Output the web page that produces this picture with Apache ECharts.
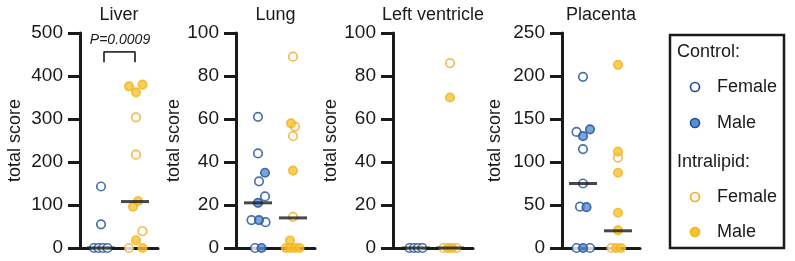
<!DOCTYPE html>
<html>
<head>
<meta charset="utf-8">
<script src="https://cdn.jsdelivr.net/npm/echarts@6/dist/echarts.min.js"></script>
<style>
  html, body { margin: 0; padding: 0; background: #fff; }
  #chart { width: 795px; height: 261px; }
</style>
</head>
<body>
<div id="chart"></div>
<script>
// ---- data ----
const titles = ['Liver', 'Lung', 'Left ventricle', 'Placenta'];
const yMax = [500, 100, 100, 250];
const yStep = [100, 20, 20, 50];

// total score per animal (ctrl = control, il = intralipid, F/M = female/male)
const liverCtrlF = [143, 55, 0, 0, 0, 0];
const liverCtrlM = [];
const liverIlF = [304, 217, 39, 0];
const liverIlM = [380, 376, 362, 109, 96, 18, 0];

const lungCtrlF = [61, 44, 31, 24, 13, 12, 0];
const lungCtrlM = [35, 21, 13, 0];
const lungIlF = [89, 56.5, 52, 14.5];
const lungIlM = [58, 36, 3.5, 0, 0, 0, 0];

const lvCtrlF = [0, 0, 0, 0];
const lvCtrlM = [];
const lvIlF = [86, 0, 0];
const lvIlM = [70, 0, 0];

const placCtrlF = [199, 135, 115, 75, 48, 0, 0];
const placCtrlM = [138, 130, 47.5, 0];
const placIlF = [105, 0];
const placIlM = [213, 112, 87.5, 41, 20.5, 0, 0];

const medianCtrl = [0, 21, 0, 75];
const medianIl = [108, 14, 0, 20];
const liverPText = 'P=0.0009';

// horizontal jitter (px) of each dot within its column
const liverCtrlFJit = [0, 0, -7, -2.5, 2, 6.5];
const liverCtrlMJit = [];
const liverIlFJit = [1, 1, 7.5, -6];
const liverIlMJit = [7.5, -6, 1, 3, -2, 1, 7.5];

const lungCtrlFJit = [0, 0, 1, 7, -6.5, 7.5, -3];
const lungCtrlMJit = [7, 0, 1, 3.5];
const lungIlFJit = [0, 2, 0, 0];
const lungIlMJit = [-2, 0, -3, -7, -2.5, 2, 6.5];

const lvCtrlFJit = [-6.5, -2, 2, 6.5];
const lvCtrlMJit = [];
const lvIlFJit = [0, -6.5, 6.5];
const lvIlMJit = [0, -2, 2];

const placCtrlFJit = [0, -6.5, 0, 0, -3, -6.5, 7];
const placCtrlMJit = [7, 0, 3.5, 0];
const placIlFJit = [0, -6.5];
const placIlMJit = [0, 0, 0, 0, 0, -2, 3];

const groups = [
  [liverCtrlF, liverCtrlM, liverIlF, liverIlM],
  [lungCtrlF, lungCtrlM, lungIlF, lungIlM],
  [lvCtrlF, lvCtrlM, lvIlF, lvIlM],
  [placCtrlF, placCtrlM, placIlF, placIlM]
];
const jitters = [
  [liverCtrlFJit, liverCtrlMJit, liverIlFJit, liverIlMJit],
  [lungCtrlFJit, lungCtrlMJit, lungIlFJit, lungIlMJit],
  [lvCtrlFJit, lvCtrlMJit, lvIlFJit, lvIlMJit],
  [placCtrlFJit, placCtrlMJit, placIlFJit, placIlMJit]
];

// ---- layout ----
const FONT = "'Liberation Sans', Arial, sans-serif";
const INK = '#1a1a1a';
const BLUE = '#1f4f99', BLUE_FILL = '#5b8dcf';
const GOLD = '#eeac27', GOLD_FILL = '#f8c330';

const gridLeft = [80, 236, 393, 562];
const gridWidth = [78, 79, 80, 78];
const ctrlX = [21, 22, 23, 21];
const ilX = [55, 57, 57, 56];
const nameGaps = [56, 50, 47, 58];
const GRID_TOP = 33, GRID_H = 215;

const dotStyles = [
  { color: '#fff', borderColor: BLUE, borderWidth: 1.7 },
  { color: BLUE_FILL, borderColor: BLUE, borderWidth: 1.7 },
  { color: '#fff', borderColor: GOLD, borderWidth: 1.7 },
  { color: GOLD_FILL, borderColor: '#f0b323', borderWidth: 1.7 }
];

const grid = [], xAxis = [], yAxis = [], series = [], graphic = [];

titles.forEach((t, p) => {
  grid.push({ left: gridLeft[p], top: GRID_TOP, width: gridWidth[p], height: GRID_H });
  xAxis.push({
    gridIndex: p, type: 'value', min: 0, max: gridWidth[p],
    axisLine: { show: true, lineStyle: { color: INK, width: 3 } },
    axisTick: { show: false }, axisLabel: { show: false }, splitLine: { show: false }
  });
  yAxis.push({
    gridIndex: p, type: 'value', min: 0, max: yMax[p], interval: yStep[p],
    name: 'total score', nameLocation: 'middle', nameGap: nameGaps[p],
    nameTextStyle: { fontSize: 18, color: INK, fontFamily: FONT },
    axisLine: { show: true, lineStyle: { color: INK, width: 3 } },
    axisTick: { show: true, length: 12, lineStyle: { color: INK, width: 3 } },
    axisLabel: { fontSize: 19, color: INK, fontFamily: FONT, margin: 17 },
    splitLine: { show: false }
  });

  groups[p].forEach((vals, g) => {
    const cx = g < 2 ? ctrlX[p] : ilX[p];
    series.push({
      type: 'scatter', xAxisIndex: p, yAxisIndex: p,
      symbol: 'circle', symbolSize: 8.5, clip: false, z: 3,
      itemStyle: dotStyles[g],
      data: vals.map((v, i) => [cx + jitters[p][g][i], v])
    });
  });

  // median bars
  series.push({
    type: 'scatter', xAxisIndex: p, yAxisIndex: p,
    symbol: 'rect', symbolSize: [28, 3], clip: false, z: 5,
    itemStyle: { color: INK },
    data: [[ctrlX[p], medianCtrl[p]], [ilX[p], medianIl[p]]]
  });

  graphic.push({
    type: 'text', x: gridLeft[p] + gridWidth[p] / 2, y: 15,
    style: { text: t, fontSize: 18, fontFamily: FONT, fill: INK,
             align: 'center', verticalAlign: 'middle', textAlign: 'center', textVerticalAlign: 'middle' }
  });
});

// significance bracket on liver
series.push({
  type: 'line', xAxisIndex: 0, yAxisIndex: 0, symbol: 'none', clip: false, z: 4,
  lineStyle: { color: '#333', width: 1.8 },
  data: [[24, 432], [24, 456], [ilX[0], 456], [ilX[0], 432]]
});
graphic.push({
  type: 'text', x: 120, y: 40,
  style: { text: liverPText, fontSize: 14, fontStyle: 'italic', fontFamily: FONT, fill: INK,
           align: 'center', verticalAlign: 'middle', textAlign: 'center', textVerticalAlign: 'middle' }
});

// legend box
const legendRows = [
  { text: 'Control:', y: 52, header: true },
  { text: 'Female', y: 87, style: dotStyles[0] },
  { text: 'Male', y: 123, style: dotStyles[1] },
  { text: 'Intralipid:', y: 162, header: true },
  { text: 'Female', y: 197, style: dotStyles[2] },
  { text: 'Male', y: 232, style: dotStyles[3] }
];
graphic.push({
  type: 'rect', shape: { x: 670, y: 35, width: 114, height: 213 },
  style: { fill: '#fff', stroke: INK, lineWidth: 2.5 }
});
legendRows.forEach(r => {
  graphic.push({
    type: 'text', x: r.header ? 677 : 717, y: r.y,
    style: { text: r.text, fontSize: 18, fontFamily: FONT, fill: INK,
             align: 'left', verticalAlign: 'middle', textAlign: 'left', textVerticalAlign: 'middle' }
  });
  if (!r.header) {
    graphic.push({
      type: 'circle', shape: { cx: 695, cy: r.y, r: 4.5 },
      style: { fill: r.style.color, stroke: r.style.borderColor, lineWidth: 1.7 }
    });
  }
});

const chart = echarts.init(document.getElementById('chart'));
chart.setOption({
  animation: false,
  backgroundColor: '#fff',
  grid, xAxis, yAxis, series, graphic
});
</script>
</body>
</html>
